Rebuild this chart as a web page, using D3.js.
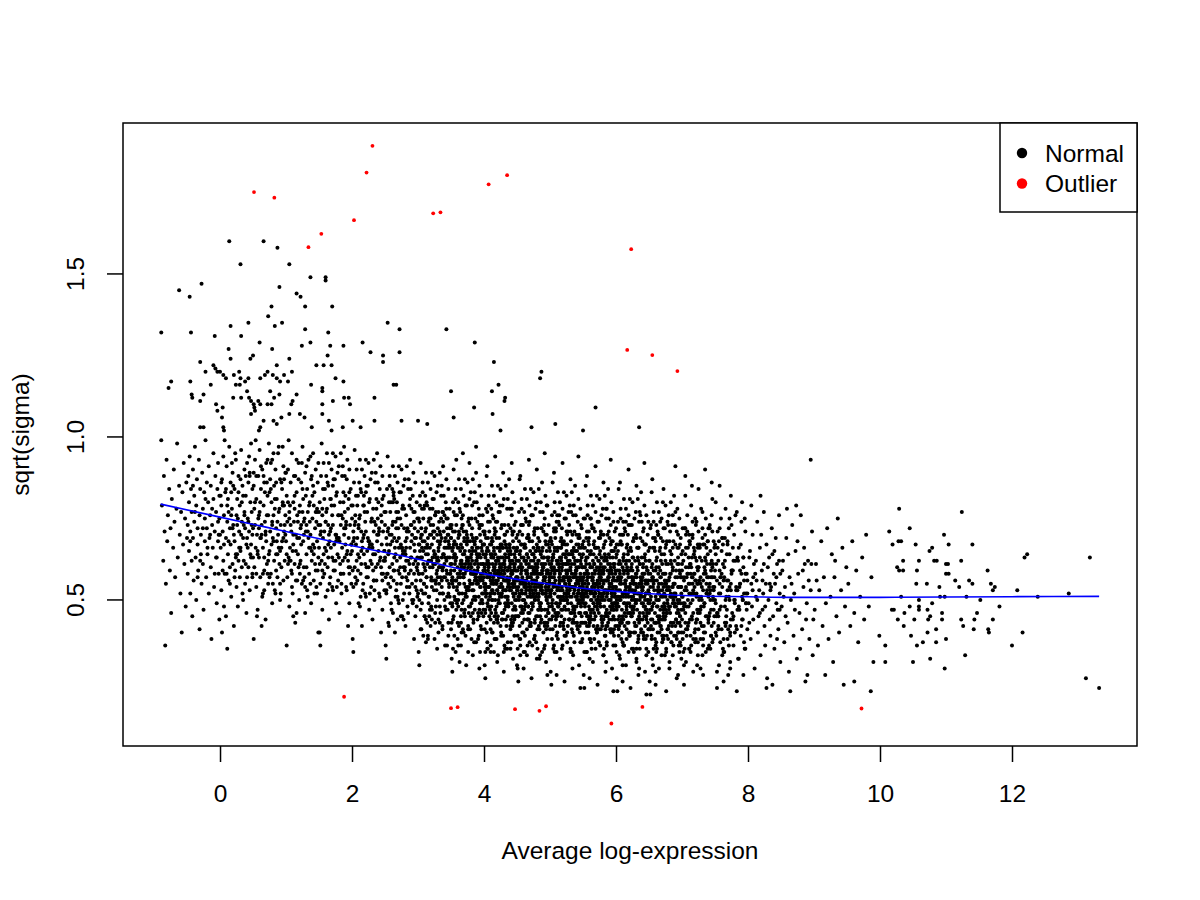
<!DOCTYPE html>
<html>
<head>
<meta charset="utf-8">
<script src="https://cdn.jsdelivr.net/npm/d3@7/dist/d3.min.js"></script>
<style>
  body { margin: 0; background: #fff; }
  svg text { font-family: "Liberation Sans", Arial, Helvetica, sans-serif; fill: #000; }
</style>
</head>
<body>
<div id="chart"></div>
<script>

// Dense cloud, Average log-expression below 1
var normalLeft = [
  -88,79, -86,62, -85,88, -84,71, -82,55, -81,93, -80,68, -79,76, -77,84, -76,59, -75,72, -74,46, -73,81, -71,66, -70,90, -69,74, -68,57, -66,78, -65,98, -64,63, -62,85, -61,70, -60,52, -59,77, -58,40, -57,83, -56,67, -55,92, -54,61, -53,75, -52,48, -51,86, -50,69, -89,99, -83,36,
  -49,73, -49,58, -48,88, -47,65, -47,80, -46,94, -45,52, -45,71, -44,84, -43,62, -43,77, -42,45, -41,90, -41,69, -40,56, -39,82, -39,74, -38,97, -37,63, -36,79, -36,50, -35,87, -34,67, -34,72, -33,59, -32,93, -31,76, -31,41, -30,84, -29,64, -29,70, -28,55, -27,89, -26,78, -26,61, -25,47, -24,83, -23,68, -23,75, -22,99, -21,57, -20,86, -20,72, -19,64, -18,80, -17,52, -17,91, -16,69, -15,76, -14,60, -14,85, -13,38, -12,73, -11,66, -10,95, -10,81, -9,54, -8,71, -7,88, -6,63, -6,77, -5,49, -4,84, -3,68, -3,92, -2,58, -1,75, -1,82, -1,44, -2,70,
  1,66, 2,79, 2,53, 3,87, 4,71, 5,62, 5,94, 6,76, 7,58, 8,83, 9,69, 9,45, 10,91, 11,74, 12,64, 12,81, 13,56, 14,97, 15,72, 16,67, 16,86, 17,51, 18,78, 19,61, 19,89, 20,73, 21,42, 22,84, 22,68, 23,59, 24,93, 25,76, 26,64, 26,81, 27,48, 28,88, 29,71, 30,57, 30,79, 31,65, 32,96, 33,74, 34,52, 34,85, 35,69, 36,62, 37,90, 37,77, 38,55, 39,82, 40,67, 40,46, 41,92, 42,75, 43,60, 43,86, 44,71, 45,53, 46,80, 46,64, 47,98, 48,73, 49,58, 49,84, 3,40, 7,99, 11,35, 15,60, 18,92, 21,70, 24,63, 27,75, 31,87, 35,50, 38,72, 42,66, 45,89, 48,77, 1,82, 6,48, 13,77, 20,85, 25,54, 29,66, 33,80, 36,73, 41,57, 44,94, 47,63, 49,70, 10,58, 17,83, 23,95, 28,62, 32,70, 39,88,
  50,72, 51,85, 52,60, 52,78, 53,93, 54,66, 55,54, 55,81, 56,70, 57,47, 58,88, 58,75, 59,63, 60,96, 61,69, 61,57, 62,84, 63,73, 64,51, 64,90, 65,66, 66,79, 67,59, 67,86, 68,74, 69,44, 70,92, 70,68, 71,61, 72,82, 73,55, 73,76, 74,98, 75,65, 76,87, 76,71, 77,58, 78,80, 79,49, 79,93, 80,69, 81,76, 82,62, 82,85, 83,53, 84,90, 85,72, 85,64, 86,81, 87,57, 88,95, 88,70, 89,66, 90,78, 91,50, 91,87, 92,73, 93,60, 94,84, 94,68, 95,97, 96,56, 97,79, 97,71, 98,62, 99,89, 51,38, 54,99, 57,64, 60,77, 63,42, 66,88, 69,70, 72,58, 75,83, 78,67, 81,95, 84,52, 87,74, 90,61, 93,86, 96,69, 99,76, 53,80, 56,45, 59,72, 62,91, 65,58, 68,83, 71,76, 74,64, 77,92, 80,55, 83,78, 86,68, 89,97, 92,52, 95,80, 98,73, 50,63, 55,88, 62,69, 67,53, 72,93, 79,74, 85,86, 91,65, 96,91
];

// 1 to 3
var normalLeftMid = [
  100,68, 101,82, 102,57, 102,74, 103,90, 104,63, 105,48, 105,77, 106,66, 107,86, 108,59, 108,71, 109,95, 110,52, 111,80, 111,67, 112,74, 113,61, 114,88, 114,43, 115,70, 116,83, 117,56, 117,76, 118,64, 119,92, 120,69, 120,50, 121,79, 122,62, 123,86, 123,73, 124,55, 125,97, 126,68, 126,81, 127,60, 128,75, 129,46, 129,89, 130,71, 131,64, 132,84, 132,53, 133,77, 134,93, 135,66, 135,58, 136,80, 137,70, 138,49, 138,87, 139,62, 140,75, 141,95, 141,67, 142,56, 143,83, 144,72, 144,61, 145,90, 146,54, 147,78, 147,68, 148,86, 149,63, 149,40, 101,36, 104,99, 107,73, 110,65, 113,78, 116,46, 119,60, 122,72, 125,84, 128,57, 131,91, 134,69, 137,55, 140,82, 143,66, 146,74, 149,92, 103,61, 106,79, 109,54, 112,88, 115,65, 118,74, 121,58, 124,92, 127,70, 130,82, 133,51, 136,74, 139,88, 142,64, 145,77, 148,59, 100,89, 105,62, 111,45, 116,93, 120,77, 126,56, 131,73, 137,94, 142,79, 147,52,
  150,66, 151,80, 152,55, 152,73, 153,88, 154,62, 155,47, 155,76, 156,69, 157,92, 158,58, 158,71, 159,84, 160,51, 161,77, 161,65, 162,95, 163,60, 164,73, 164,85, 165,44, 166,68, 167,81, 167,57, 168,72, 169,90, 170,63, 170,76, 171,53, 172,87, 173,67, 173,79, 174,59, 175,94, 176,70, 176,49, 177,83, 178,64, 179,76, 179,56, 180,91, 181,68, 182,61, 182,80, 183,73, 184,52, 185,88, 185,66, 186,75, 187,58, 188,97, 188,70, 189,63, 190,82, 191,54, 191,74, 192,87, 193,65, 194,42, 194,78, 195,69, 196,90, 197,60, 197,73, 198,84, 199,55, 199,67, 151,40, 154,98, 157,64, 160,74, 163,86, 166,55, 169,79, 172,62, 175,70, 178,89, 181,46, 184,76, 187,83, 190,67, 193,93, 196,58, 199,79, 153,71, 156,84, 159,61, 162,78, 165,92, 168,66, 171,73, 174,87, 177,54, 180,69, 183,95, 186,62, 189,77, 192,53, 195,81, 198,64, 150,77, 155,59, 161,88, 165,70, 170,54, 176,82, 180,63, 186,91, 190,72, 196,49, 152,36, 158,81, 164,67, 171,95, 177,69, 183,58, 189,88, 194,62,
  200,65, 201,79, 202,54, 202,71, 203,86, 204,60, 205,45, 205,74, 206,67, 207,90, 208,56, 208,69, 209,82, 210,49, 211,75, 211,63, 212,93, 213,58, 214,71, 214,83, 215,42, 216,66, 217,79, 217,55, 218,70, 219,88, 220,61, 220,74, 221,51, 222,85, 223,65, 223,77, 224,57, 225,92, 226,68, 226,47, 227,81, 228,62, 229,74, 229,54, 230,89, 231,66, 232,59, 232,78, 233,71, 234,50, 235,86, 235,64, 236,73, 237,56, 238,95, 238,68, 239,61, 240,80, 241,52, 241,72, 242,84, 243,63, 244,40, 244,76, 245,67, 246,88, 247,58, 247,71, 248,82, 249,53, 249,65, 201,38, 204,96, 207,62, 210,72, 213,84, 216,53, 219,77, 222,60, 225,68, 228,87, 231,44, 234,74, 237,81, 240,65, 243,91, 246,56, 249,77, 203,69, 206,82, 209,59, 212,76, 215,90, 218,64, 221,71, 224,85, 227,52, 230,67, 233,93, 236,60, 239,75, 242,51, 245,79, 248,62, 200,75, 205,57, 211,86, 215,68, 220,52, 226,80, 230,61, 236,89, 240,70, 246,47, 202,34, 208,79, 214,65, 221,93, 227,67, 233,56, 239,86, 244,60, 204,73, 212,48, 218,82, 224,69, 232,64, 245,74,
  250,63, 251,77, 252,52, 252,69, 253,84, 254,58, 255,43, 255,72, 256,65, 257,88, 258,54, 258,67, 259,80, 260,47, 261,73, 261,61, 262,91, 263,56, 264,69, 264,81, 265,40, 266,64, 267,77, 267,53, 268,68, 269,86, 270,59, 270,72, 271,49, 272,83, 273,63, 273,75, 274,55, 275,90, 276,66, 276,45, 277,79, 278,60, 279,72, 279,52, 280,87, 281,64, 282,57, 282,76, 283,69, 284,48, 285,84, 285,62, 286,71, 287,54, 288,93, 288,66, 289,59, 290,78, 291,50, 291,70, 292,82, 293,61, 294,38, 294,74, 295,65, 296,86, 297,56, 297,69, 298,80, 299,51, 299,63, 251,36, 254,94, 257,60, 260,70, 263,82, 266,51, 269,75, 272,58, 275,66, 278,85, 281,42, 284,72, 287,79, 290,63, 293,89, 296,54, 299,75, 253,67, 256,80, 259,57, 262,74, 265,88, 268,62, 271,69, 274,83, 277,50, 280,65, 283,91, 286,58, 289,73, 292,49, 295,77, 298,60, 250,73, 255,55, 261,84, 265,66, 270,50, 276,78, 280,59, 286,87, 290,68, 296,45, 252,32, 258,77, 264,63, 271,91, 277,65, 283,54, 289,84, 294,58, 254,71, 262,46, 268,80, 274,67, 282,62, 295,72, 257,85, 263,59, 269,44, 275,73, 281,68, 287,61, 293,77, 298,53
];

// extra left-side points, -0.5 to 2.5
var normalLeftExtra = [
  -45,68, -38,77, -30,62, -22,81, -15,70, -8,58, -3,74, 2,86, 6,67, 11,79, 15,55, 19,72, 24,64, 28,83, 33,60, 37,76, 41,69, 45,88, 49,57, 53,73, 57,65, 61,80, 65,52, 69,71, 73,62, 77,84, 81,68, 85,59, 89,77, 93,66, 97,87, -41,85, -34,57, -26,72, -19,66, -12,78, -5,63, 0,70, 4,59, 9,84, 13,68, 17,76, 22,57, 26,73, 31,66, 35,82, 39,61, 43,74, 47,67, 51,89, 55,58, 59,76, 63,70, 67,63, 71,86, 75,57, 79,73, 83,81, 87,64, 91,55, 95,79, 99,70,
  101,64, 105,75, 109,58, 113,82, 117,69, 121,61, 125,77, 129,54, 133,71, 137,66, 141,85, 145,59, 149,73, 103,80, 107,62, 111,70, 115,56, 119,87, 123,67, 127,74, 131,60, 135,79, 139,65, 143,52, 147,77,
  152,70, 156,57, 160,74, 164,63, 168,81, 172,59, 176,68, 180,76, 184,55, 188,72, 192,64, 196,83, 151,61, 155,78, 159,66, 163,53, 167,71, 171,85, 175,62, 179,69, 183,58, 187,80, 191,73, 195,60, 199,67,
  202,68, 206,55, 210,73, 214,61, 218,79, 222,57, 226,66, 230,75, 234,53, 238,70, 242,62, 246,81, 201,59, 205,76, 209,64, 213,51, 217,69, 221,83, 225,60, 229,67, 233,56, 237,78, 241,71, 245,58, 249,65
];

// 3 to 5
var normalMid = [
  300,61, 301,75, 302,50, 302,67, 303,82, 304,56, 305,41, 305,70, 306,63, 307,86, 308,52, 308,65, 309,78, 310,45, 311,71, 311,59, 312,89, 313,54, 314,67, 314,79, 315,38, 316,62, 317,75, 317,51, 318,66, 319,84, 320,57, 320,70, 321,47, 322,81, 323,61, 323,73, 324,53, 325,88, 326,64, 326,43, 327,77, 328,58, 329,70, 329,50, 330,85, 331,62, 332,55, 332,74, 333,67, 334,46, 335,82, 335,60, 336,69, 337,52, 338,91, 338,64, 339,57, 340,76, 341,48, 341,68, 342,80, 343,59, 344,36, 344,72, 345,63, 346,84, 347,54, 347,67, 348,78, 349,49, 349,61, 301,34, 304,92, 307,58, 310,68, 313,80, 316,49, 319,73, 322,56, 325,64, 328,83, 331,40, 334,70, 337,77, 340,61, 343,87, 346,52, 349,73, 303,65, 306,78, 309,55, 312,72, 315,86, 318,60, 321,67, 324,81, 327,48, 330,63, 333,89, 336,56, 339,71, 342,47, 345,75, 348,58, 300,71, 305,53, 311,82, 315,64, 320,48, 326,76, 330,57, 336,85, 340,66, 346,43, 302,30, 308,75, 314,61, 321,89, 327,63, 333,52, 339,82, 344,56, 304,69, 312,44, 318,78, 324,65, 332,60, 345,70, 307,83, 313,57, 319,42, 325,71, 331,66, 337,59, 343,75, 348,51, 301,58, 306,66, 311,52, 316,74, 322,63, 327,55, 333,71, 338,60, 343,66, 348,63, 304,47, 310,60, 315,69, 320,62, 325,56, 331,77, 336,63, 341,57, 346,68,
  350,59, 351,73, 352,48, 352,65, 353,80, 354,54, 355,39, 355,68, 356,61, 357,84, 358,50, 358,63, 359,76, 360,43, 361,69, 361,57, 362,87, 363,52, 364,65, 364,77, 365,36, 366,60, 367,73, 367,49, 368,64, 369,82, 370,55, 370,68, 371,45, 372,79, 373,59, 373,71, 374,51, 375,86, 376,62, 376,41, 377,75, 378,56, 379,68, 379,48, 380,83, 381,60, 382,53, 382,72, 383,65, 384,44, 385,80, 385,58, 386,67, 387,50, 388,89, 388,62, 389,55, 390,74, 391,46, 391,66, 392,78, 393,57, 394,34, 394,70, 395,61, 396,82, 397,52, 397,65, 398,76, 399,47, 399,59, 351,32, 354,90, 357,56, 360,66, 363,78, 366,47, 369,71, 372,54, 375,62, 378,81, 381,38, 384,68, 387,75, 390,59, 393,85, 396,50, 399,71, 353,63, 356,76, 359,53, 362,70, 365,84, 368,58, 371,65, 374,79, 377,46, 380,61, 383,87, 386,56, 389,69, 392,45, 395,73, 398,56, 350,69, 355,51, 361,80, 365,62, 370,46, 376,74, 380,55, 386,83, 390,64, 396,41, 352,28, 358,73, 364,59, 371,87, 377,61, 383,50, 389,80, 394,54, 354,67, 362,42, 368,76, 374,63, 382,58, 395,68, 357,81, 363,55, 369,40, 375,69, 381,64, 387,57, 393,73, 398,49, 351,56, 356,64, 361,50, 366,72, 372,61, 377,53, 383,69, 388,58, 393,64, 398,61, 354,45, 360,58, 365,67, 370,60, 375,54, 381,75, 386,61, 391,55, 396,66, 352,57, 357,62, 362,55, 367,66, 372,52, 378,63, 384,58, 389,62, 394,56, 399,64, 353,71, 359,49, 364,61, 369,57, 374,67, 379,59, 385,51, 390,63, 395,58, 353,35, 363,31, 373,30, 383,33, 393,29, 358,93, 368,95, 378,92, 388,97,
  400,57, 401,71, 402,46, 402,63, 403,78, 404,52, 405,37, 405,66, 406,59, 407,82, 408,48, 408,61, 409,74, 410,41, 411,67, 411,55, 412,85, 413,50, 414,63, 414,75, 415,34, 416,58, 417,71, 417,47, 418,62, 419,80, 420,53, 420,66, 421,43, 422,77, 423,57, 423,69, 424,49, 425,84, 426,60, 426,39, 427,73, 428,54, 429,66, 429,46, 430,81, 431,58, 432,51, 432,70, 433,63, 434,42, 435,78, 435,56, 436,65, 437,48, 438,87, 438,60, 439,53, 440,72, 441,44, 441,64, 442,76, 443,55, 444,32, 444,68, 445,59, 446,80, 447,50, 447,63, 448,74, 449,45, 449,57, 401,30, 404,88, 407,54, 410,64, 413,76, 416,45, 419,69, 422,52, 425,60, 428,79, 431,36, 434,66, 437,73, 440,57, 443,83, 446,48, 449,69, 403,61, 406,74, 409,51, 412,68, 415,82, 418,56, 421,63, 424,77, 427,44, 430,59, 433,85, 436,54, 439,67, 442,43, 445,71, 448,54, 400,67, 405,49, 411,78, 415,60, 420,44, 426,72, 430,53, 436,81, 440,62, 446,39, 402,26, 408,71, 414,57, 421,85, 427,59, 433,48, 439,78, 444,52, 404,65, 412,40, 418,74, 424,61, 432,56, 445,66, 407,79, 413,53, 419,38, 425,67, 431,62, 437,55, 443,71, 448,47, 401,54, 406,62, 411,48, 416,70, 422,59, 427,51, 433,67, 438,56, 443,62, 448,59, 404,43, 410,56, 415,65, 420,58, 425,52, 431,73, 436,59, 441,53, 446,64, 402,55, 407,60, 412,53, 417,64, 422,50, 428,61, 434,56, 439,60, 444,54, 449,62, 403,69, 409,47, 414,59, 419,55, 424,65, 429,57, 435,49, 440,61, 445,56, 401,60, 406,57, 411,63, 416,52, 421,58, 426,55, 431,61, 436,50, 441,58, 446,60, 403,51, 408,58, 413,56, 418,61, 423,54, 428,66, 433,53, 438,64, 443,58, 448,52, 405,61, 415,55, 425,63, 435,59, 445,51, 410,34, 420,31, 430,28, 440,35, 450,30, 405,91, 417,94, 429,89, 442,92,
  450,56, 451,70, 452,45, 452,62, 453,77, 454,51, 455,36, 455,65, 456,58, 457,81, 458,47, 458,60, 459,73, 460,40, 461,66, 461,54, 462,84, 463,49, 464,62, 464,74, 465,33, 466,57, 467,70, 467,46, 468,61, 469,79, 470,52, 470,65, 471,42, 472,76, 473,56, 473,68, 474,48, 475,83, 476,59, 476,38, 477,72, 478,53, 479,65, 479,45, 480,80, 481,57, 482,50, 482,69, 483,62, 484,41, 485,77, 485,55, 486,64, 487,47, 488,86, 488,59, 489,52, 490,71, 491,43, 491,63, 492,75, 493,54, 494,31, 494,67, 495,58, 496,79, 497,49, 497,62, 498,73, 499,44, 499,56, 451,29, 454,87, 457,53, 460,63, 463,75, 466,44, 469,68, 472,51, 475,59, 478,78, 481,35, 484,65, 487,72, 490,56, 493,82, 496,47, 499,68, 453,60, 456,73, 459,50, 462,67, 465,81, 468,55, 471,62, 474,76, 477,43, 480,58, 483,84, 486,53, 489,66, 492,42, 495,70, 498,53, 450,66, 455,48, 461,77, 465,59, 470,43, 476,71, 480,52, 486,80, 490,61, 496,38, 452,25, 458,70, 464,56, 471,84, 477,58, 483,47, 489,77, 494,51, 454,64, 462,39, 468,73, 474,60, 482,55, 495,65, 457,78, 463,52, 469,37, 475,66, 481,61, 487,54, 493,70, 498,46, 451,53, 456,61, 461,47, 466,69, 472,58, 477,50, 483,66, 488,55, 493,61, 498,58, 454,42, 460,55, 465,64, 470,57, 475,51, 481,72, 486,58, 491,52, 496,63, 452,54, 457,59, 462,52, 467,63, 472,49, 478,60, 484,55, 489,59, 494,53, 499,61, 453,68, 459,46, 464,58, 469,54, 474,64, 479,56, 485,48, 490,60, 495,55, 451,59, 456,56, 461,62, 466,51, 471,57, 476,54, 481,60, 486,49, 491,57, 496,59, 453,50, 458,57, 463,55, 468,60, 473,53, 478,65, 483,52, 488,63, 493,57, 498,51, 455,60, 465,54, 475,62, 485,58, 495,50, 457,67, 467,48, 477,63, 487,44, 497,67, 460,29, 472,26, 484,32, 496,27, 455,88, 468,93, 480,90, 492,95
];

// 5 to 7
var normalCentre = [
  500,55, 501,69, 502,44, 502,61, 503,76, 504,50, 505,35, 505,64, 506,57, 507,80, 508,46, 508,59, 509,72, 510,39, 511,65, 511,53, 512,83, 513,48, 514,61, 514,73, 515,32, 516,56, 517,69, 517,45, 518,60, 519,78, 520,51, 520,64, 521,41, 522,75, 523,55, 523,67, 524,47, 525,82, 526,58, 526,37, 527,71, 528,52, 529,64, 529,44, 530,79, 531,56, 532,49, 532,68, 533,61, 534,40, 535,76, 535,54, 536,63, 537,46, 538,85, 538,58, 539,51, 540,70, 541,42, 541,62, 542,74, 543,53, 544,30, 544,66, 545,57, 546,78, 547,48, 547,61, 548,72, 549,43, 549,55, 501,28, 504,86, 507,52, 510,62, 513,74, 516,43, 519,67, 522,50, 525,58, 528,77, 531,34, 534,64, 537,71, 540,55, 543,81, 546,46, 549,67, 503,59, 506,72, 509,49, 512,66, 515,80, 518,54, 521,61, 524,75, 527,42, 530,57, 533,83, 536,52, 539,65, 542,41, 545,69, 548,52, 500,65, 505,47, 511,76, 515,58, 520,42, 526,70, 530,51, 536,79, 540,60, 546,37, 502,24, 508,69, 514,55, 521,83, 527,57, 533,46, 539,76, 544,50, 504,63, 512,38, 518,72, 524,59, 532,54, 545,64, 507,77, 513,51, 519,36, 525,65, 531,60, 537,53, 543,69, 548,45, 501,52, 506,60, 511,46, 516,68, 522,57, 527,49, 533,65, 538,54, 543,60, 548,57, 504,41, 510,54, 515,63, 520,56, 525,50, 531,71, 536,57, 541,51, 546,62, 502,53, 507,58, 512,51, 517,62, 522,48, 528,59, 534,54, 539,58, 544,52, 549,60, 503,67, 509,45, 514,57, 519,53, 524,63, 529,55, 535,47, 540,59, 545,54, 501,58, 506,55, 511,61, 516,50, 521,56, 526,53, 531,59, 536,48, 541,56, 546,58, 503,49, 508,56, 513,54, 518,59, 523,52, 528,64, 533,51, 538,62, 543,56, 548,50, 505,59, 515,53, 525,61, 535,57, 545,49, 507,66, 517,47, 527,62, 537,43, 547,66, 510,27, 522,25, 534,29, 546,23, 506,89, 519,92, 531,87, 543,94,
  550,54, 551,68, 552,43, 552,60, 553,75, 554,49, 555,34, 555,63, 556,56, 557,79, 558,45, 558,58, 559,71, 560,38, 561,64, 561,52, 562,82, 563,47, 564,60, 564,72, 565,31, 566,55, 567,68, 567,44, 568,59, 569,77, 570,50, 570,63, 571,40, 572,74, 573,54, 573,66, 574,46, 575,81, 576,57, 576,36, 577,70, 578,51, 579,63, 579,43, 580,78, 581,55, 582,48, 582,67, 583,60, 584,39, 585,75, 585,53, 586,62, 587,45, 588,84, 588,57, 589,50, 590,69, 591,41, 591,61, 592,73, 593,52, 594,29, 594,65, 595,56, 596,77, 597,47, 597,60, 598,71, 599,42, 599,54, 551,27, 554,85, 557,51, 560,61, 563,73, 566,42, 569,66, 572,49, 575,57, 578,76, 581,33, 584,63, 587,70, 590,54, 593,80, 596,45, 599,66, 553,58, 556,71, 559,48, 562,65, 565,79, 568,53, 571,60, 574,74, 577,41, 580,56, 583,82, 586,51, 589,64, 592,40, 595,68, 598,51, 550,64, 555,46, 561,75, 565,57, 570,41, 576,69, 580,50, 586,78, 590,59, 596,36, 552,23, 558,68, 564,54, 571,82, 577,56, 583,45, 589,75, 594,49, 554,62, 562,37, 568,71, 574,58, 582,53, 595,63, 557,76, 563,50, 569,35, 575,64, 581,59, 587,52, 593,68, 598,44, 551,51, 556,59, 561,45, 566,67, 572,56, 577,48, 583,64, 588,53, 593,59, 598,56, 554,40, 560,53, 565,62, 570,55, 575,49, 581,70, 586,56, 591,50, 596,61, 552,52, 557,57, 562,50, 567,61, 572,47, 578,58, 584,53, 589,57, 594,51, 599,59, 553,66, 559,44, 564,56, 569,52, 574,62, 579,54, 585,46, 590,58, 595,53, 551,57, 556,54, 561,60, 566,49, 571,55, 576,52, 581,58, 586,47, 591,55, 596,57, 553,48, 558,55, 563,53, 568,58, 573,51, 578,63, 583,50, 588,61, 593,55, 598,49, 555,58, 565,52, 575,60, 585,56, 595,48, 557,65, 567,46, 577,61, 587,42, 597,65, 560,26, 572,24, 584,28, 596,22, 556,88, 569,91, 581,86, 592,93,
  600,53, 601,67, 602,42, 602,59, 603,74, 604,48, 605,33, 605,62, 606,55, 607,78, 608,44, 608,57, 609,70, 610,37, 611,63, 611,51, 612,81, 613,46, 614,59, 614,71, 615,30, 616,54, 617,67, 617,43, 618,58, 619,76, 620,49, 620,62, 621,39, 622,73, 623,53, 623,65, 624,45, 625,80, 626,56, 626,35, 627,69, 628,50, 629,62, 629,42, 630,77, 631,54, 632,47, 632,66, 633,59, 634,38, 635,74, 635,52, 636,61, 637,44, 638,83, 638,56, 639,49, 640,68, 641,40, 641,60, 642,72, 643,51, 644,28, 644,64, 645,55, 646,76, 647,46, 647,59, 648,70, 649,41, 649,53, 601,26, 604,84, 607,50, 610,60, 613,72, 616,41, 619,65, 622,48, 625,56, 628,75, 631,32, 634,62, 637,69, 640,53, 643,79, 646,44, 649,65, 603,57, 606,70, 609,47, 612,64, 615,78, 618,52, 621,59, 624,73, 627,40, 630,55, 633,81, 636,50, 639,63, 642,39, 645,67, 648,50, 600,63, 605,45, 611,74, 615,56, 620,40, 626,68, 630,49, 636,77, 640,58, 646,35, 602,22, 608,67, 614,53, 621,81, 627,55, 633,44, 639,74, 644,48, 604,61, 612,36, 618,70, 624,57, 632,52, 645,62, 607,75, 613,49, 619,34, 625,63, 631,58, 637,51, 643,67, 648,43, 601,50, 606,58, 611,44, 616,66, 622,55, 627,47, 633,63, 638,52, 643,58, 648,55, 604,39, 610,52, 615,61, 620,54, 625,48, 631,69, 636,55, 641,49, 646,60, 602,51, 607,56, 612,49, 617,60, 622,46, 628,57, 634,52, 639,56, 644,50, 649,58, 603,65, 609,43, 614,55, 619,51, 624,61, 629,53, 635,45, 640,57, 645,52, 601,56, 606,53, 611,59, 616,48, 621,54, 626,51, 631,57, 636,46, 641,54, 646,56, 605,57, 615,51, 625,59, 635,55, 645,47, 610,25, 622,23, 634,27, 646,21, 606,86, 619,90, 631,85, 643,92,
  650,52, 651,66, 652,41, 652,58, 653,73, 654,47, 655,32, 655,61, 656,54, 657,77, 658,43, 658,56, 659,69, 660,36, 661,62, 661,50, 662,80, 663,45, 664,58, 664,70, 665,29, 666,53, 667,66, 667,42, 668,57, 669,75, 670,48, 670,61, 671,38, 672,72, 673,52, 673,64, 674,44, 675,79, 676,55, 676,34, 677,68, 678,49, 679,61, 679,41, 680,76, 681,53, 682,46, 682,65, 683,58, 684,37, 685,73, 685,51, 686,60, 687,43, 688,82, 688,55, 689,48, 690,67, 691,39, 691,59, 692,71, 693,50, 694,27, 694,63, 695,54, 696,75, 697,45, 697,58, 698,69, 699,40, 699,52, 651,25, 654,83, 657,49, 660,59, 663,71, 666,40, 669,64, 672,47, 675,55, 678,74, 681,31, 684,61, 687,68, 690,52, 693,78, 696,43, 699,64, 653,56, 656,69, 659,46, 662,63, 665,77, 668,51, 671,58, 674,72, 677,39, 680,54, 683,80, 686,49, 689,62, 692,38, 695,66, 698,49, 650,62, 655,44, 661,73, 665,55, 670,39, 676,67, 680,48, 686,76, 690,57, 696,34, 652,21, 658,66, 664,52, 671,80, 677,54, 683,43, 689,73, 694,47, 654,60, 662,35, 668,69, 674,56, 682,51, 695,61, 657,74, 663,48, 669,33, 675,62, 681,57, 687,50, 693,66, 698,42, 651,49, 656,57, 661,43, 666,65, 672,54, 677,46, 683,62, 688,51, 693,57, 698,54, 654,38, 660,51, 665,60, 670,53, 675,47, 681,68, 686,54, 691,48, 696,59, 652,50, 657,55, 662,48, 667,59, 672,45, 678,56, 684,51, 689,55, 694,49, 699,57, 655,56, 665,50, 675,58, 685,54, 695,46, 660,24, 676,22, 692,26, 655,87, 672,84, 690,91
];

// extra points in the dense core, 2.5 to 8
var normalDense = [
  253,58, 271,66, 259,49, 266,74, 250,62, 268,55, 262,80, 257,70, 274,45, 255,64, 264,59, 270,77, 252,53, 261,68, 273,60, 256,42, 267,72, 251,57, 263,83, 269,51,
  277,64, 291,55, 283,71, 298,48, 280,60, 294,67, 287,52, 279,78, 296,62, 285,46, 290,73, 276,57, 293,50, 282,66, 299,59, 288,81, 278,44, 295,69, 284,56, 289,63,
  302,58, 318,47, 311,66, 305,72, 321,54, 308,61, 315,39, 324,69, 300,52, 313,57, 319,75, 304,63, 310,45, 322,60, 307,68, 316,51, 303,79, 320,56, 312,64, 306,49, 323,71, 309,55, 317,62, 301,67, 314,43,
  327,56, 341,63, 333,48, 346,70, 329,59, 338,52, 349,66, 331,44, 344,58, 335,75, 326,61, 340,50, 347,55, 330,68, 337,41, 343,62, 328,53, 348,72, 334,57, 339,64, 345,47, 332,60, 342,69, 336,54, 326,46, 349,58, 331,65, 344,51, 338,77, 329,62,
  352,55, 367,61, 358,47, 373,68, 355,59, 362,52, 370,64, 351,43, 364,57, 356,71, 369,50, 374,62, 359,54, 353,66, 366,40, 371,58, 357,63, 361,48, 368,73, 354,56, 372,51, 360,60, 365,45, 350,69, 363,58, 374,53, 357,67, 369,57, 352,49, 366,62, 360,38, 355,64, 371,47, 363,70, 358,56, 367,52, 351,61, 373,59, 362,66, 356,50,
  377,54, 391,60, 383,46, 398,67, 380,58, 387,51, 395,63, 376,42, 389,56, 381,70, 394,49, 399,61, 384,53, 378,65, 392,39, 396,57, 382,62, 386,47, 393,72, 379,55, 397,50, 385,59, 390,44, 375,68, 388,57, 399,52, 382,66, 394,56, 377,48, 391,61, 385,37, 380,63, 396,46, 388,69, 383,55, 392,51, 376,60, 398,58, 387,65, 381,49, 395,54, 379,41, 389,64, 384,58, 393,47,
  402,53, 417,59, 408,45, 423,66, 405,57, 412,50, 420,62, 401,41, 414,55, 406,69, 419,48, 424,60, 409,52, 403,64, 416,38, 421,56, 407,61, 411,46, 418,71, 404,54, 422,49, 410,58, 415,43, 400,67, 413,56, 424,51, 407,65, 419,55, 402,47, 416,60, 410,36, 405,62, 421,45, 413,68, 408,54, 417,50, 401,59, 423,57, 412,64, 406,48, 420,53, 404,40, 414,63, 409,57, 418,46, 403,58, 422,62, 411,52, 415,66, 400,55, 419,44, 407,50, 424,58, 413,61, 405,35,
  427,52, 442,58, 433,44, 448,65, 430,56, 437,49, 445,61, 426,40, 439,54, 431,68, 444,47, 449,59, 434,51, 428,63, 441,37, 446,55, 432,60, 436,45, 443,70, 429,53, 447,48, 435,57, 440,42, 425,66, 438,55, 449,50, 432,64, 444,54, 427,46, 441,59, 435,35, 430,61, 446,44, 438,67, 433,53, 442,49, 426,58, 448,56, 437,63, 431,47, 445,52, 429,39, 439,62, 434,56, 443,45, 428,57, 447,61, 436,51, 440,65, 425,54, 444,43, 432,49, 449,57, 438,60, 430,34,
  452,51, 467,57, 458,43, 473,64, 455,55, 462,48, 470,60, 451,39, 464,53, 456,67, 469,46, 474,58, 459,50, 453,62, 466,36, 471,54, 457,59, 461,44, 468,69, 454,52, 472,47, 460,56, 465,41, 450,65, 463,54, 474,49, 457,63, 469,53, 452,45, 466,58, 460,34, 455,60, 471,43, 463,66, 458,52, 467,48, 451,57, 473,55, 462,62, 456,46, 470,51, 454,38, 464,61, 459,55, 468,44, 453,56, 472,60, 461,50, 465,64, 450,53, 469,42, 457,48, 474,56, 463,59, 455,33,
  477,50, 492,56, 483,42, 498,63, 480,54, 487,47, 495,59, 476,38, 489,52, 481,66, 494,45, 499,57, 484,49, 478,61, 491,35, 496,53, 482,58, 486,43, 493,68, 479,51, 497,46, 485,55, 490,40, 475,64, 488,53, 499,48, 482,62, 494,52, 477,44, 491,57, 485,33, 480,59, 496,42, 488,65, 483,51, 492,47, 476,56, 498,54, 487,61, 481,45, 495,50, 479,37, 489,60, 484,54, 493,43, 478,55, 497,59, 486,49, 490,63, 475,52, 494,41, 482,47, 499,55, 488,58, 480,32,
  503,48, 519,61, 507,55, 522,44, 511,66, 500,52, 515,58, 524,39, 505,63, 518,50, 509,71, 521,57, 513,46, 502,60, 517,53, 506,36, 523,64, 510,49, 514,56, 501,68, 520,43, 508,59, 516,51, 504,45, 512,62, 525,54, 503,57, 519,47, 507,65, 522,52, 511,40, 500,58, 515,49, 524,61, 505,54, 518,68, 509,44, 521,50, 513,59, 502,53, 517,63, 506,47, 523,55, 510,34, 514,60, 501,51, 520,57, 508,42, 516,66, 504,55, 512,48, 524,52, 503,62, 518,56, 510,45,
  528,47, 544,60, 532,54, 547,43, 536,65, 525,51, 540,57, 549,38, 530,62, 543,49, 534,70, 546,56, 538,45, 527,59, 542,52, 531,35, 548,63, 535,48, 539,55, 526,67, 545,42, 533,58, 541,50, 529,44, 537,61, 549,53, 528,56, 544,46, 532,64, 547,51, 536,39, 525,57, 540,48, 549,60, 530,53, 543,67, 534,43, 546,49, 538,58, 527,52, 542,62, 531,46, 548,54, 535,33, 539,59, 526,50, 545,56, 533,41, 541,65, 529,54, 537,47, 549,51, 528,61, 543,55, 535,44,
  553,46, 569,59, 557,53, 572,42, 561,64, 550,50, 565,56, 574,37, 555,61, 568,48, 559,69, 571,55, 563,44, 552,58, 567,51, 556,34, 573,62, 560,47, 564,54, 551,66, 570,41, 558,57, 566,49, 554,43, 562,60, 575,52, 553,55, 569,45, 557,63, 572,50, 561,38, 550,56, 565,47, 574,59, 555,52, 568,66, 559,42, 571,48, 563,57, 552,51, 567,61, 556,45, 573,53, 560,32, 564,58, 551,49, 570,55, 558,40, 566,64, 554,53, 562,46, 574,50, 553,60, 568,54, 560,43,
  578,45, 594,58, 582,52, 597,41, 586,63, 575,49, 590,55, 599,36, 580,60, 593,47, 584,68, 596,54, 588,43, 577,57, 592,50, 581,33, 598,61, 585,46, 589,53, 576,65, 595,40, 583,56, 591,48, 579,42, 587,59, 599,51, 578,54, 594,44, 582,62, 597,49, 586,37, 575,55, 590,46, 599,58, 580,51, 593,65, 584,41, 596,47, 588,56, 577,50, 592,60, 581,44, 598,52, 585,31, 589,57, 576,48, 595,54, 583,39, 591,63, 579,52, 587,45, 599,49, 578,59, 593,53, 585,42,
  603,44, 619,57, 607,51, 622,40, 611,62, 600,48, 615,54, 624,35, 605,59, 618,46, 609,67, 621,53, 613,42, 602,56, 617,49, 606,32, 623,60, 610,45, 614,52, 601,64, 620,39, 608,55, 616,47, 604,41, 612,58, 624,50, 603,53, 619,43, 607,61, 622,48, 611,36, 600,54, 615,45, 624,57, 605,50, 618,64, 609,40, 621,46, 613,55, 602,49, 617,59, 606,43, 623,51, 610,30, 614,56, 601,47, 620,53, 608,38, 616,62, 604,51,
  628,43, 644,56, 632,50, 647,39, 636,61, 625,47, 640,53, 649,34, 630,58, 643,45, 634,66, 646,52, 638,41, 627,55, 642,48, 631,31, 648,59, 635,44, 639,51, 626,63, 645,38, 633,54, 641,46, 629,40, 637,57, 649,49, 628,52, 644,42, 632,60, 647,47, 636,35, 625,53, 640,44, 649,56, 630,49, 643,63, 634,39, 646,45, 638,54, 627,48, 642,58, 631,42, 648,50, 635,29, 639,55, 626,46, 645,52, 633,37, 641,61, 629,50,
  653,42, 669,55, 657,49, 672,38, 661,60, 650,46, 665,52, 674,33, 655,57, 668,44, 659,65, 671,51, 663,40, 652,54, 667,47, 656,30, 673,58, 660,43, 664,50, 651,62, 670,37, 658,53, 666,45, 654,39, 662,56, 674,48, 653,51, 669,41, 657,59, 672,46, 661,34, 650,52, 665,43, 674,55, 655,48, 668,62, 659,38, 671,44, 663,53, 652,47, 667,57, 656,41, 673,49, 660,28, 664,54,
  678,41, 694,54, 682,48, 697,37, 686,59, 675,45, 690,51, 699,32, 680,56, 693,43, 684,64, 696,50, 688,39, 677,53, 692,46, 681,29, 698,57, 685,42, 689,49, 676,61, 695,36, 683,52, 691,44, 679,38, 687,55, 699,47, 678,50, 694,40, 682,58, 697,45, 686,33, 675,51, 690,42, 699,54, 680,47, 693,61, 684,37, 696,43, 688,52, 677,46,
  703,48, 719,40, 707,57, 722,52, 711,35, 700,61, 715,45, 724,55, 705,43, 718,66, 709,50, 721,38, 713,58, 702,47, 717,53, 706,70, 723,44, 710,60, 714,36, 701,51, 720,63, 708,41, 716,55, 704,49, 712,67, 724,46, 703,30, 719,58, 707,39, 722,62, 711,52, 700,44, 715,57, 724,33, 705,64,
  728,47, 744,39, 732,56, 747,51, 736,34, 725,60, 740,44, 749,54, 730,42, 743,65, 734,49, 746,37, 738,57, 727,46, 742,52, 731,69, 748,43, 735,59, 739,35, 726,50, 745,62, 733,40, 741,54, 729,48, 737,66, 749,45, 728,29, 744,57, 732,38, 747,61,
  753,46, 769,38, 757,55, 772,50, 761,33, 750,59, 765,43, 774,53, 755,41, 768,64, 759,48, 771,36, 763,56, 752,45, 767,51, 756,68, 773,42, 760,58, 764,34, 751,49,
  778,45, 794,37, 782,54, 797,49, 786,32, 775,58, 790,42, 799,52, 780,40, 793,63, 784,47, 796,35, 788,55, 777,44, 792,50
];

// upper and lower edges of the dense core, 3 to 7.8
var normalFringe = [
  304,41, 312,37, 321,44, 329,35, 337,42, 346,39, 353,44, 361,36, 368,41, 376,34, 384,43, 391,38, 399,45, 406,35, 413,40, 421,33, 428,44, 436,37, 443,42, 451,35, 458,40, 466,44, 473,36, 481,41, 488,34, 496,43, 503,38, 511,45, 518,35, 526,40, 533,34, 541,43, 548,37, 556,42, 563,35, 571,40, 578,44, 586,36, 593,41, 601,34, 608,43, 616,38, 623,45, 631,35, 638,40, 646,33, 653,44, 661,37, 668,42, 676,35, 683,40, 691,44, 698,36, 706,41, 713,34, 721,43, 728,38, 736,45, 743,35, 751,40, 758,37, 766,42, 773,39,
  308,39, 317,45, 325,38, 333,43, 341,36, 350,41, 357,34, 365,43, 372,39, 380,45, 388,37, 395,42, 402,34, 410,44, 417,38, 425,42, 432,35, 440,41, 447,45, 455,38, 462,34, 470,42, 477,39, 485,45, 492,36, 500,41, 507,34, 515,42, 522,39, 530,44, 537,37, 545,40, 552,34, 560,43, 567,38, 575,41, 582,35, 590,44, 597,39, 605,42, 612,36, 620,40, 627,34, 635,43, 642,38, 650,41, 657,35, 665,44, 672,39, 680,42, 687,36, 695,40, 702,34, 710,43, 717,38, 725,41, 732,36, 740,43, 747,38, 755,42, 762,35, 770,41,
  302,74, 310,79, 318,70, 326,76, 334,68, 343,78, 350,72, 358,67, 366,75, 374,70, 382,79, 389,66, 397,73, 405,77, 412,69, 420,74, 427,67, 435,71, 442,78, 450,66, 457,73, 465,69, 472,76, 480,67, 487,72, 495,79, 502,68, 510,74, 517,66, 525,71, 532,77, 540,67, 547,73, 555,69, 562,75, 570,66, 577,71, 585,78, 592,67, 600,72, 607,68, 615,74, 622,66, 630,70, 637,76, 645,67, 652,72, 660,68, 667,74, 675,66, 682,71, 690,77, 697,67, 705,72, 712,68, 720,75, 727,66, 735,70, 742,73, 750,67, 757,72, 765,69, 772,75,
  306,70, 314,66, 322,78, 330,72, 338,74, 346,66, 354,77, 362,71, 370,69, 378,73, 386,68, 393,76, 401,70, 409,67, 416,72, 424,79, 431,70, 439,66, 446,73, 454,71, 461,67, 469,74, 476,70, 484,68, 491,73, 499,66, 506,71, 514,76, 521,68, 529,73, 536,66, 544,70, 551,75, 559,67, 566,72, 574,69, 581,66, 589,71, 596,74, 604,67, 611,70, 619,73, 626,68, 634,66, 641,71, 649,74, 656,66, 664,70, 671,68, 679,73, 686,66, 694,70, 701,72, 709,66, 716,70, 724,67, 731,72, 739,68, 746,71, 754,66, 761,69, 769,67
];

// 7 to 10
var normalRight = [
  700,51, 701,65, 702,40, 703,57, 704,72, 705,46, 706,31, 706,60, 707,53, 708,76, 709,42, 710,55, 711,68, 711,35, 712,61, 713,49, 714,79, 715,44, 716,57, 716,69, 717,28, 718,52, 719,65, 720,41, 721,56, 722,74, 723,47, 723,60, 724,37, 725,71, 726,51, 727,63, 728,43, 729,78, 730,54, 731,33, 732,67, 733,48, 734,60, 735,40, 736,75, 737,52, 738,45, 739,64, 740,57, 741,36, 742,72, 743,50, 744,59, 745,42, 746,81, 747,54, 748,47, 749,66, 701,38, 703,24, 705,82, 707,48, 709,58, 711,70, 713,39, 715,63, 717,46, 719,54, 721,73, 723,30, 725,60, 727,67, 729,51, 731,77, 733,42, 735,63, 737,55, 739,68, 741,45, 743,61, 745,76, 747,50, 749,57, 702,62, 704,53, 706,66, 708,58, 710,48, 712,55, 714,60, 716,50, 718,64, 720,56, 722,51, 724,59, 726,47, 728,57, 730,62, 732,53, 734,49, 736,58, 738,61, 740,51, 742,55, 744,47, 746,60, 748,53, 700,59, 704,35, 708,71, 712,44, 716,74, 720,37, 724,66, 728,55, 732,27, 736,62, 740,72, 744,39, 748,68, 702,49, 706,54, 710,63, 714,52, 718,58, 722,44, 726,56, 730,50, 734,67, 738,53, 742,46, 746,57, 705,88, 715,85, 725,84, 735,90, 745,86, 703,56, 713,61, 723,55, 733,58, 743,53,
  750,50, 751,64, 752,39, 753,56, 754,71, 755,45, 756,30, 757,59, 758,52, 759,75, 760,41, 761,54, 762,67, 763,34, 764,60, 765,48, 766,78, 767,43, 768,56, 769,68, 770,27, 771,51, 772,64, 773,40, 774,55, 775,73, 776,46, 777,59, 778,36, 779,70, 780,50, 781,62, 782,42, 783,77, 784,53, 785,32, 786,66, 787,47, 788,59, 789,39, 790,74, 791,51, 792,44, 793,63, 794,56, 795,35, 796,71, 797,49, 798,58, 799,41, 751,80, 753,23, 755,62, 757,47, 759,57, 761,69, 763,38, 765,62, 767,45, 769,53, 771,72, 773,29, 775,59, 777,66, 779,50, 781,76, 783,41, 785,62, 787,54, 789,67, 791,44, 793,60, 795,75, 797,52, 799,56, 752,61, 756,52, 760,65, 764,57, 768,47, 772,54, 776,59, 780,49, 784,63, 788,55, 792,50, 796,58, 754,46, 758,57, 762,61, 766,50, 770,56, 774,44, 778,62, 782,53, 786,48, 790,58, 794,52, 798,47, 753,28, 763,25, 773,31, 783,22, 793,27, 757,85, 774,82, 791,80,
  801,49, 802,63, 804,38, 805,55, 807,70, 808,44, 810,29, 811,58, 812,51, 814,74, 815,40, 817,53, 818,66, 819,33, 821,59, 822,47, 824,77, 825,42, 827,55, 828,67, 829,26, 831,50, 832,63, 834,39, 835,54, 836,72, 838,45, 839,58, 840,35, 842,69, 843,49, 844,61, 846,41, 847,76, 848,52, 849,31, 803,65, 806,48, 809,61, 813,56, 816,45, 820,70, 823,52, 826,36, 830,60, 833,44, 837,64, 841,55, 845,47, 849,58, 802,43, 808,57, 814,50, 818,46, 824,61, 828,23, 834,53, 840,65, 844,38, 848,47, 805,79, 819,82, 833,55, 847,62, 812,62, 826,48, 837,24, 843,57, 807,53, 822,56,
  851,48, 853,62, 855,37, 856,54, 858,69, 860,43, 862,28, 863,57, 865,50, 867,73, 869,39, 870,52, 872,65, 874,32, 876,58, 878,46, 880,76, 882,41, 884,54, 885,66, 887,25, 889,49, 891,62, 893,38, 895,53, 897,71, 899,44, 852,59, 857,45, 861,64, 866,55, 871,47, 875,68, 879,35, 883,59, 888,44, 892,56, 896,61, 854,51, 864,22, 873,79, 886,61, 898,33, 859,78, 890,27, 895,93,
  901,47, 903,61, 906,36, 908,53, 911,68, 913,42, 915,57, 918,49, 920,72, 922,38, 925,51, 927,64, 929,31, 931,57, 934,45, 936,75, 938,40, 941,53, 943,66, 945,24, 947,48, 949,60, 904,56, 917,27, 932,62,
  952,55, 955,42, 958,68, 961,46, 964,59, 967,37, 970,51, 973,63, 976,44, 979,70, 983,48, 987,57
];

// Sparse points above 1.0 on the left half
var normalHigh = [
  14,160, 66,160, 87,158, 31,153, 105,153, 137,149, 160,149, 160,148, -28,147, -62,145, -46,143, 90,146, 116,144, 122,143, 78,140, 129,140, 170,140, 73,137, 254,135, 43,135, 16,134, 83,134, 94,135, 129,133, 164,132, 272,133, 343,133, -89,132, -44,132, -8,131, 32,131, 60,129, 13,127, 79,127, 124,128, 137,129, 167,128, 187,128, 216,129, 228,126, 247,125, 272,126, 163,125, 105,124, -30,123, 16,124, 50,125, 46,124, -10,122, -7,121, 86,122, 146,122, 157,122, 169,122, 247,123, -22,120, -4,120, 0,120, 5,119, 9,118, 21,119, 29,120, 38,117, 31,118, 43,118, 61,118, 68,119, 72,120, 80,119, 86,118, 91,117, 97,119, 103,117, 109,120, 175,118, 187,117, -74,117, -45,117, -78,115, -14,116, 24,116, 30,116, 41,114, 76,114, 90,113, 116,113, 138,116, 155,115, 155,114, 263,116, 267,116, 350,114, -43,113, -42,112, -25,113, -30,111, 20,112, 32,112, 44,112, 47,111, 58,111, 51,110, 61,110, 72,110, 78,110, 82,112, 110,111, 108,110, 155,110, 171,111, 188,112, 195,112, 197,110, 234,112, -6,110, -4,108, 4,109, 3,106, 52,109, 53,108, 47,107, 66,105, 81,105, 86,104, 93,106, 105,107, 121,107, 128,106, 155,107, 165,105, 201,105, 213,103, 234,105, 275,105, 300,105, 314,104, 354,106, -30,103, -25,103, 5,103, 6,102, 61,103, 59,102, 139,103, 169,102, 186,103,
  386,129, 415,123, 487,120, 485,118, 422,116, 412,114, 432,112, 431,111, 385,109, 569,109, 413,107, 508,104, 425,102, 472,103, 550,102, 635,103
];

// Sparse tail at high expression
var normalTail = [
  1029,78, 1124,77, 1014,71, 1045,72, 1097,70, 1054,67, 1104,67, 1140,67, 1019,67, 1028,68, 1032,68, 1075,65, 1079,66, 1059,62, 1056,59, 1035,62, 1026,60, 1029,59, 1035,59, 1082,62, 1086,62, 1100,61, 1103,61, 1123,62, 1163,59, 1100,58, 1104,58, 1055,55, 1071,55, 1090,54, 1114,56, 1120,54, 1135,56, 1140,55, 1168,55, 1174,54, 1171,53, 1208,53, 1223,64, 1219,63, 1318,63, 1286,52, 1239,51, 1131,51, 1098,51, 1091,51, 1059,50, 1032,51, 1152,50, 1181,48, 1079,49, 1059,48, 1059,47, 1045,48, 1018,47, 1021,47, 1037,46, 1072,47, 1076,45, 1094,46, 1094,44, 1073,44, 1052,44, 1027,44, 1123,44, 1143,44, 1126,42, 1171,44, 1147,46, 1164,41, 1165,40, 1142,41, 1085,41, 1072,40, 1100,38, 1085,37, 1065,37, 1056,36, 1047,39, 1036,42, 1008,36, 999,39, 1216,40, 1200,36, 1076,32, 1129,33, 1050,31, 1098,29, 1008,31, 990,31, 1312,26, 1332,23, 986,22, 961,25
];

// Outliers (red), in natural units
var outlierX = [2.31, 2.22, 0.515, 0.823, 3.23, 3.34, 2.03, 1.535, 1.34, 4.35, 4.07, 6.23, 6.17, 6.55, 6.93, 1.88, 3.50, 3.60, 4.47, 4.84, 4.94, 5.93, 6.40, 9.72];
var outlierY = [1.893, 1.811, 1.751, 1.734, 1.686, 1.689, 1.665, 1.623, 1.582, 1.803, 1.775, 1.576, 1.267, 1.251, 1.202, 0.203, 0.168, 0.171, 0.165, 0.160, 0.174, 0.121, 0.172, 0.167];

// Fitted trend (blue)
var trendX = [-0.90, 0, 1, 2, 3, 3.68, 4.24, 5, 5.76, 6.52, 7.27, 8, 8.64, 10, 11, 12, 13.32];
var trendY = [0.794, 0.754, 0.710, 0.666, 0.625, 0.593, 0.572, 0.548, 0.530, 0.519, 0.512, 0.510, 0.508, 0.508, 0.509, 0.510, 0.511];

var xTicks = [0, 2, 4, 6, 8, 10, 12];
var yTicks = [0.5, 1.0, 1.5];
var legendLabels = ["Normal", "Outlier"];
var legendColors = ["#000000", "#ff0000"];

var xLim = [-1.47, 13.894];
var yLim = [0.052, 1.963];

(function () {
    var width = 1200, height = 900;
    var box = { left: 123, right: 1137, top: 123, bottom: 746 };
    var fontSize = 24.5;
    var pointR = 2.0;

    // turn a flat hundredths list into point objects
    function toPoints(flat) {
        var out = [];
        for (var i = 0; i + 1 < flat.length; i += 2) {
            out.push({ x: flat[i] / 100, y: flat[i + 1] / 100 });
        }
        return out;
    }

    var normal = [].concat(
        toPoints(normalLeft), toPoints(normalLeftMid), toPoints(normalLeftExtra), toPoints(normalMid),
        toPoints(normalCentre), toPoints(normalDense), toPoints(normalFringe), toPoints(normalRight),
        toPoints(normalHigh), toPoints(normalTail)
    );
    var outliers = outlierX.map(function (x, i) { return { x: x, y: outlierY[i] }; });
    var trend = trendX.map(function (x, i) { return { x: x, y: trendY[i] }; });

    var xScale = d3.scaleLinear().domain(xLim).range([box.left, box.right]);
    var yScale = d3.scaleLinear().domain(yLim).range([box.bottom, box.top]);

    var svg = d3.select("#chart").append("svg")
        .attr("width", width)
        .attr("height", height)
        .style("display", "block");

    svg.append("rect").attr("width", width).attr("height", height).attr("fill", "#fff");

    // points
    var plot = svg.append("g").attr("class", "points");
    plot.selectAll("circle.normal")
        .data(normal)
        .enter().append("circle")
        .attr("class", "normal")
        .attr("cx", function (d) { return xScale(d.x); })
        .attr("cy", function (d) { return yScale(d.y); })
        .attr("r", pointR)
        .attr("fill", "#000");

    plot.selectAll("circle.outlier")
        .data(outliers)
        .enter().append("circle")
        .attr("class", "outlier")
        .attr("cx", function (d) { return xScale(d.x); })
        .attr("cy", function (d) { return yScale(d.y); })
        .attr("r", 1.9)
        .attr("fill", "#ff0000");

    // trend line on top of the points
    var line = d3.line()
        .x(function (d) { return xScale(d.x); })
        .y(function (d) { return yScale(d.y); })
        .curve(d3.curveMonotoneX);
    svg.append("path")
        .datum(trend)
        .attr("d", line)
        .attr("fill", "none")
        .attr("stroke", "#0000ff")
        .attr("stroke-width", 1.6);

    // axes: R style, ticks outside the box
    var xAxis = d3.axisBottom(xScale).tickValues(xTicks).tickSize(16).tickPadding(23)
        .tickFormat(d3.format("d"));
    var gx = svg.append("g").attr("transform", "translate(0," + box.bottom + ")").call(xAxis);
    gx.select(".domain").remove();
    gx.selectAll("line").attr("stroke", "#000").attr("stroke-width", 1.5);
    gx.selectAll("text").attr("font-size", fontSize).attr("fill", "#000")
        .attr("font-family", "Liberation Sans, Arial, sans-serif");

    var gy = svg.append("g").attr("class", "y-axis");
    gy.selectAll("line")
        .data(yTicks)
        .enter().append("line")
        .attr("x1", box.left - 16).attr("x2", box.left)
        .attr("y1", function (d) { return yScale(d); })
        .attr("y2", function (d) { return yScale(d); })
        .attr("stroke", "#000").attr("stroke-width", 1.5);
    gy.selectAll("text")
        .data(yTicks)
        .enter().append("text")
        .attr("transform", function (d) { return "translate(84," + yScale(d) + ") rotate(-90)"; })
        .attr("text-anchor", "middle")
        .attr("font-size", fontSize)
        .text(function (d) { return d3.format(".1f")(d); });

    // frame
    svg.append("rect")
        .attr("x", box.left).attr("y", box.top)
        .attr("width", box.right - box.left).attr("height", box.bottom - box.top)
        .attr("fill", "none").attr("stroke", "#000").attr("stroke-width", 1.5);

    // axis titles
    svg.append("text")
        .attr("x", (box.left + box.right) / 2).attr("y", 859)
        .attr("text-anchor", "middle").attr("font-size", fontSize)
        .text("Average log-expression");
    svg.append("text")
        .attr("transform", "translate(29," + (box.top + box.bottom) / 2 + ") rotate(-90)")
        .attr("text-anchor", "middle").attr("font-size", fontSize)
        .text("sqrt(sigma)");

    // legend in the top right corner
    var legend = svg.append("g").attr("class", "legend");
    legend.append("rect")
        .attr("x", 1000).attr("y", box.top)
        .attr("width", box.right - 1000).attr("height", 212 - box.top)
        .attr("fill", "#fff").attr("stroke", "#000").attr("stroke-width", 1.5);
    var rows = legend.selectAll("g.row")
        .data(legendLabels)
        .enter().append("g")
        .attr("class", "row")
        .attr("transform", function (d, i) { return "translate(0," + (153 + i * 30.5) + ")"; });
    rows.append("circle")
        .attr("cx", 1022).attr("cy", 0).attr("r", 5.2)
        .attr("fill", function (d, i) { return legendColors[i]; });
    rows.append("text")
        .attr("x", 1045).attr("y", 8.8)
        .attr("font-size", fontSize)
        .text(function (d) { return d; });
})();
</script>
</body>
</html>
